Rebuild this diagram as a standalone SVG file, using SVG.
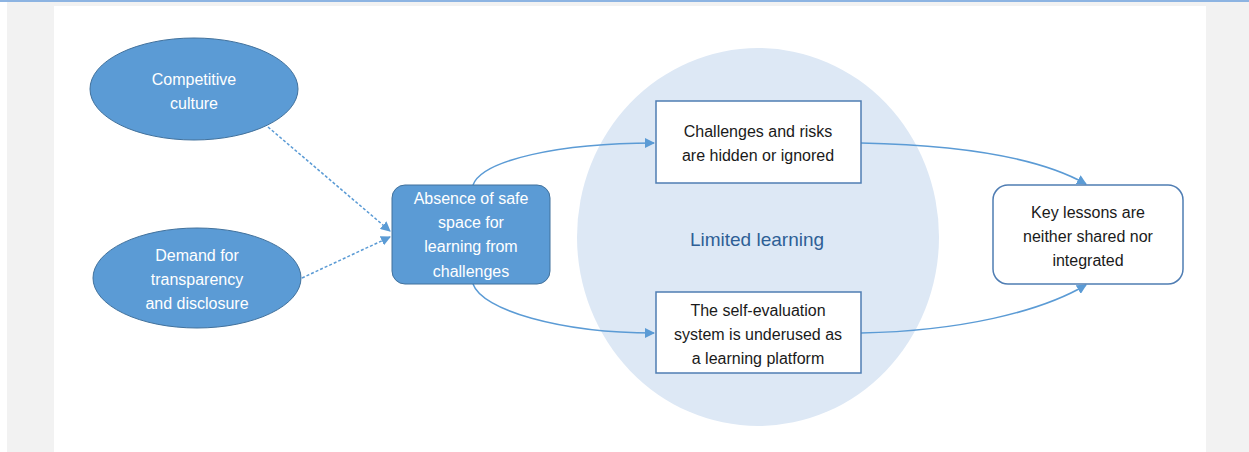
<svg xmlns="http://www.w3.org/2000/svg" width="1249" height="452" viewBox="0 0 1249 452">
<defs>
<style>
.t{font-family:"Liberation Sans",Arial,sans-serif;font-size:16px;text-anchor:middle}
.w{fill:#ffffff}
.k{fill:#1a1a1a}
.blue{fill:#5b9bd5;stroke:#41719c;stroke-width:1}
.box{fill:#ffffff;stroke:#4f7db3;stroke-width:1.5}
.c{fill:none;stroke:#5b9bd5;stroke-width:1.5}
.d{fill:none;stroke:#5b9bd5;stroke-width:1.5;stroke-dasharray:3 2}
</style>
<marker id="ah" viewBox="0 0 10 10" refX="9" refY="5" markerWidth="10" markerHeight="10" markerUnits="userSpaceOnUse" orient="auto">
<path d="M0,0 L10,5 L0,10 z" fill="#5b9bd5"/>
</marker>
</defs>
<rect x="0" y="0" width="1249" height="452" fill="#ffffff"/>
<rect x="7" y="2" width="1242" height="450" fill="#f2f2f2"/>
<rect x="0" y="0" width="1249" height="2" fill="#8db4e2"/>
<rect x="54" y="6" width="1152" height="446" fill="#ffffff"/>
<g id="limited-learning">
<ellipse cx="758" cy="237" rx="181" ry="189" fill="#dde8f5"/>
<text x="757" y="246" style="font-family:'Liberation Sans',Arial,sans-serif;font-size:19px;text-anchor:middle;fill:#2e5f96">Limited learning</text>
</g>
<g id="connectors">
<path class="d" d="M268,127 L390,231" marker-end="url(#ah)"/>
<path class="d" d="M302,278 L390,237" marker-end="url(#ah)"/>
<path class="c" d="M473,185 C482,160 560,143 654,143" marker-end="url(#ah)"/>
<path class="c" d="M473,284 C482,310 560,333 654,333" marker-end="url(#ah)"/>
<path class="c" d="M861,143 C960,145 1040,158 1086,184" marker-end="url(#ah)"/>
<path class="c" d="M861,333 C960,331 1040,312 1086,285" marker-end="url(#ah)"/>
</g>
<g id="competitive-culture">
<ellipse class="blue" cx="194" cy="89" rx="104" ry="51"/>
<text class="t w" x="194" y="85">Competitive</text>
<text class="t w" x="194" y="109">culture</text>
</g>
<g id="demand-transparency">
<ellipse class="blue" cx="197" cy="278" rx="104" ry="50"/>
<text class="t w" x="197" y="261">Demand for</text>
<text class="t w" x="197" y="285">transparency</text>
<text class="t w" x="197" y="309">and disclosure</text>
</g>
<g id="absence-safe-space">
<rect class="blue" x="392" y="185" width="158" height="99" rx="13"/>
<text class="t w" x="471" y="204">Absence of safe</text>
<text class="t w" x="471" y="228">space for</text>
<text class="t w" x="471" y="252">learning from</text>
<text class="t w" x="471" y="277">challenges</text>
</g>
<g id="challenges-hidden">
<rect class="box" x="656" y="101" width="205" height="82"/>
<text class="t k" x="758" y="137">Challenges and risks</text>
<text class="t k" x="758" y="161">are hidden or ignored</text>
</g>
<g id="self-evaluation">
<rect class="box" x="656" y="292" width="205" height="81"/>
<text class="t k" x="758" y="316">The self-evaluation</text>
<text class="t k" x="758" y="340">system is underused as</text>
<text class="t k" x="758" y="364">a learning platform</text>
</g>
<g id="key-lessons">
<rect class="box" x="993" y="185" width="190" height="99" rx="15"/>
<text class="t k" x="1088" y="218">Key lessons are</text>
<text class="t k" x="1088" y="242">neither shared nor</text>
<text class="t k" x="1088" y="266">integrated</text>
</g>
</svg>
